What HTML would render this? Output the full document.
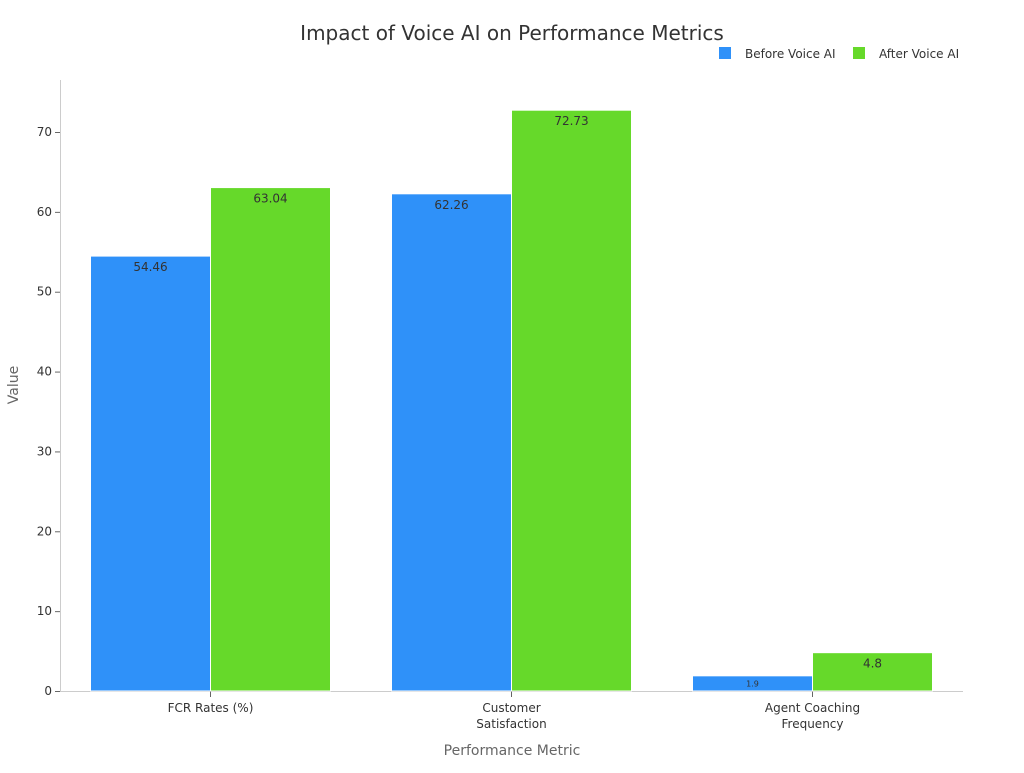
<!DOCTYPE html>
<html><head><meta charset="utf-8"><style>
body{margin:0;background:#fff;font-family:"Liberation Sans","DejaVu Sans",sans-serif}
svg text{font-family:"DejaVu Sans","Liberation Sans",sans-serif}
</style></head><body>
<svg id="c" width="1024" height="768" xmlns="http://www.w3.org/2000/svg">
<text x="512" y="40" text-anchor="middle" font-size="20" fill="#333">Impact of Voice AI on Performance Metrics</text>
<g>
<rect x="719" y="47" width="12" height="12" fill="#2f91f9"/>
<text x="745" y="58" font-size="12" fill="#333">Before Voice AI</text>
<rect x="853" y="47" width="12" height="12" fill="#66d92a"/>
<text x="879" y="58" font-size="12" fill="#333">After Voice AI</text>
</g>
<line x1="60.5" y1="80" x2="60.5" y2="691" stroke="#ccc"/>
<line x1="60" y1="691.5" x2="963" y2="691.5" stroke="#ccc"/>
<text transform="translate(18,385) rotate(-90)" text-anchor="middle" font-size="14" fill="#666">Value</text>
<text x="512" y="755" text-anchor="middle" font-size="14" fill="#666">Performance Metric</text>
<g id="g"></g>
</svg>
<script>
const categories=[["FCR Rates (%)"],["Customer","Satisfaction"],["Agent Coaching","Frequency"]];
const before=[54.46,62.26,1.9];
const after=[63.04,72.73,4.8];
const yTicks=[0,10,20,30,40,50,60,70];
const NS="http://www.w3.org/2000/svg";
const g=document.getElementById('g');
const y=v=>691-v*(559/70);
const gw=903/categories.length;
const x0=i=>60+i*gw;
function mk(t,a,txt){const e=document.createElementNS(NS,t);for(const k in a)e.setAttribute(k,a[k]);if(txt!=null)e.textContent=txt;g.appendChild(e);return e;}
yTicks.forEach(t=>{
 const l=mk('line',{x1:55,x2:60,y1:y(t)+.5,y2:y(t)+.5,stroke:'#666'});
 
 
 const tx=mk('text',{x:52,y:y(t)+4,'text-anchor':'end','font-size':12,fill:'#333'},t);
 
 
});
categories.forEach((c,i)=>{
 const cx=x0(i)+gw/2;
 const tk=mk('line',{x1:cx,x2:cx,y1:691,y2:697,stroke:'#666'});
 
 
 c.forEach((ln,j)=>{
  const t=mk('text',{x:cx,y:712+j*16,'text-anchor':'middle','font-size':12,fill:'#333'},ln);
  
  
 });
 [[before[i],'#2f91f9',cx-120,'before'],[after[i],'#66d92a',cx,'after']].forEach(([v,col,bx,nm])=>{
  const r=mk('rect',{x:bx,y:y(v),width:120,height:691-y(v),fill:col,stroke:'#fff','stroke-width':1});
  
  
  const h=691-y(v);
  const fs=h<20?8:12;
  const lb=mk('text',{x:bx+60,y:y(v)+(h<20?h/2+3:15),'text-anchor':'middle','font-size':fs,fill:'#333'},v);
  
  
 });
});
</script>
</body></html>
